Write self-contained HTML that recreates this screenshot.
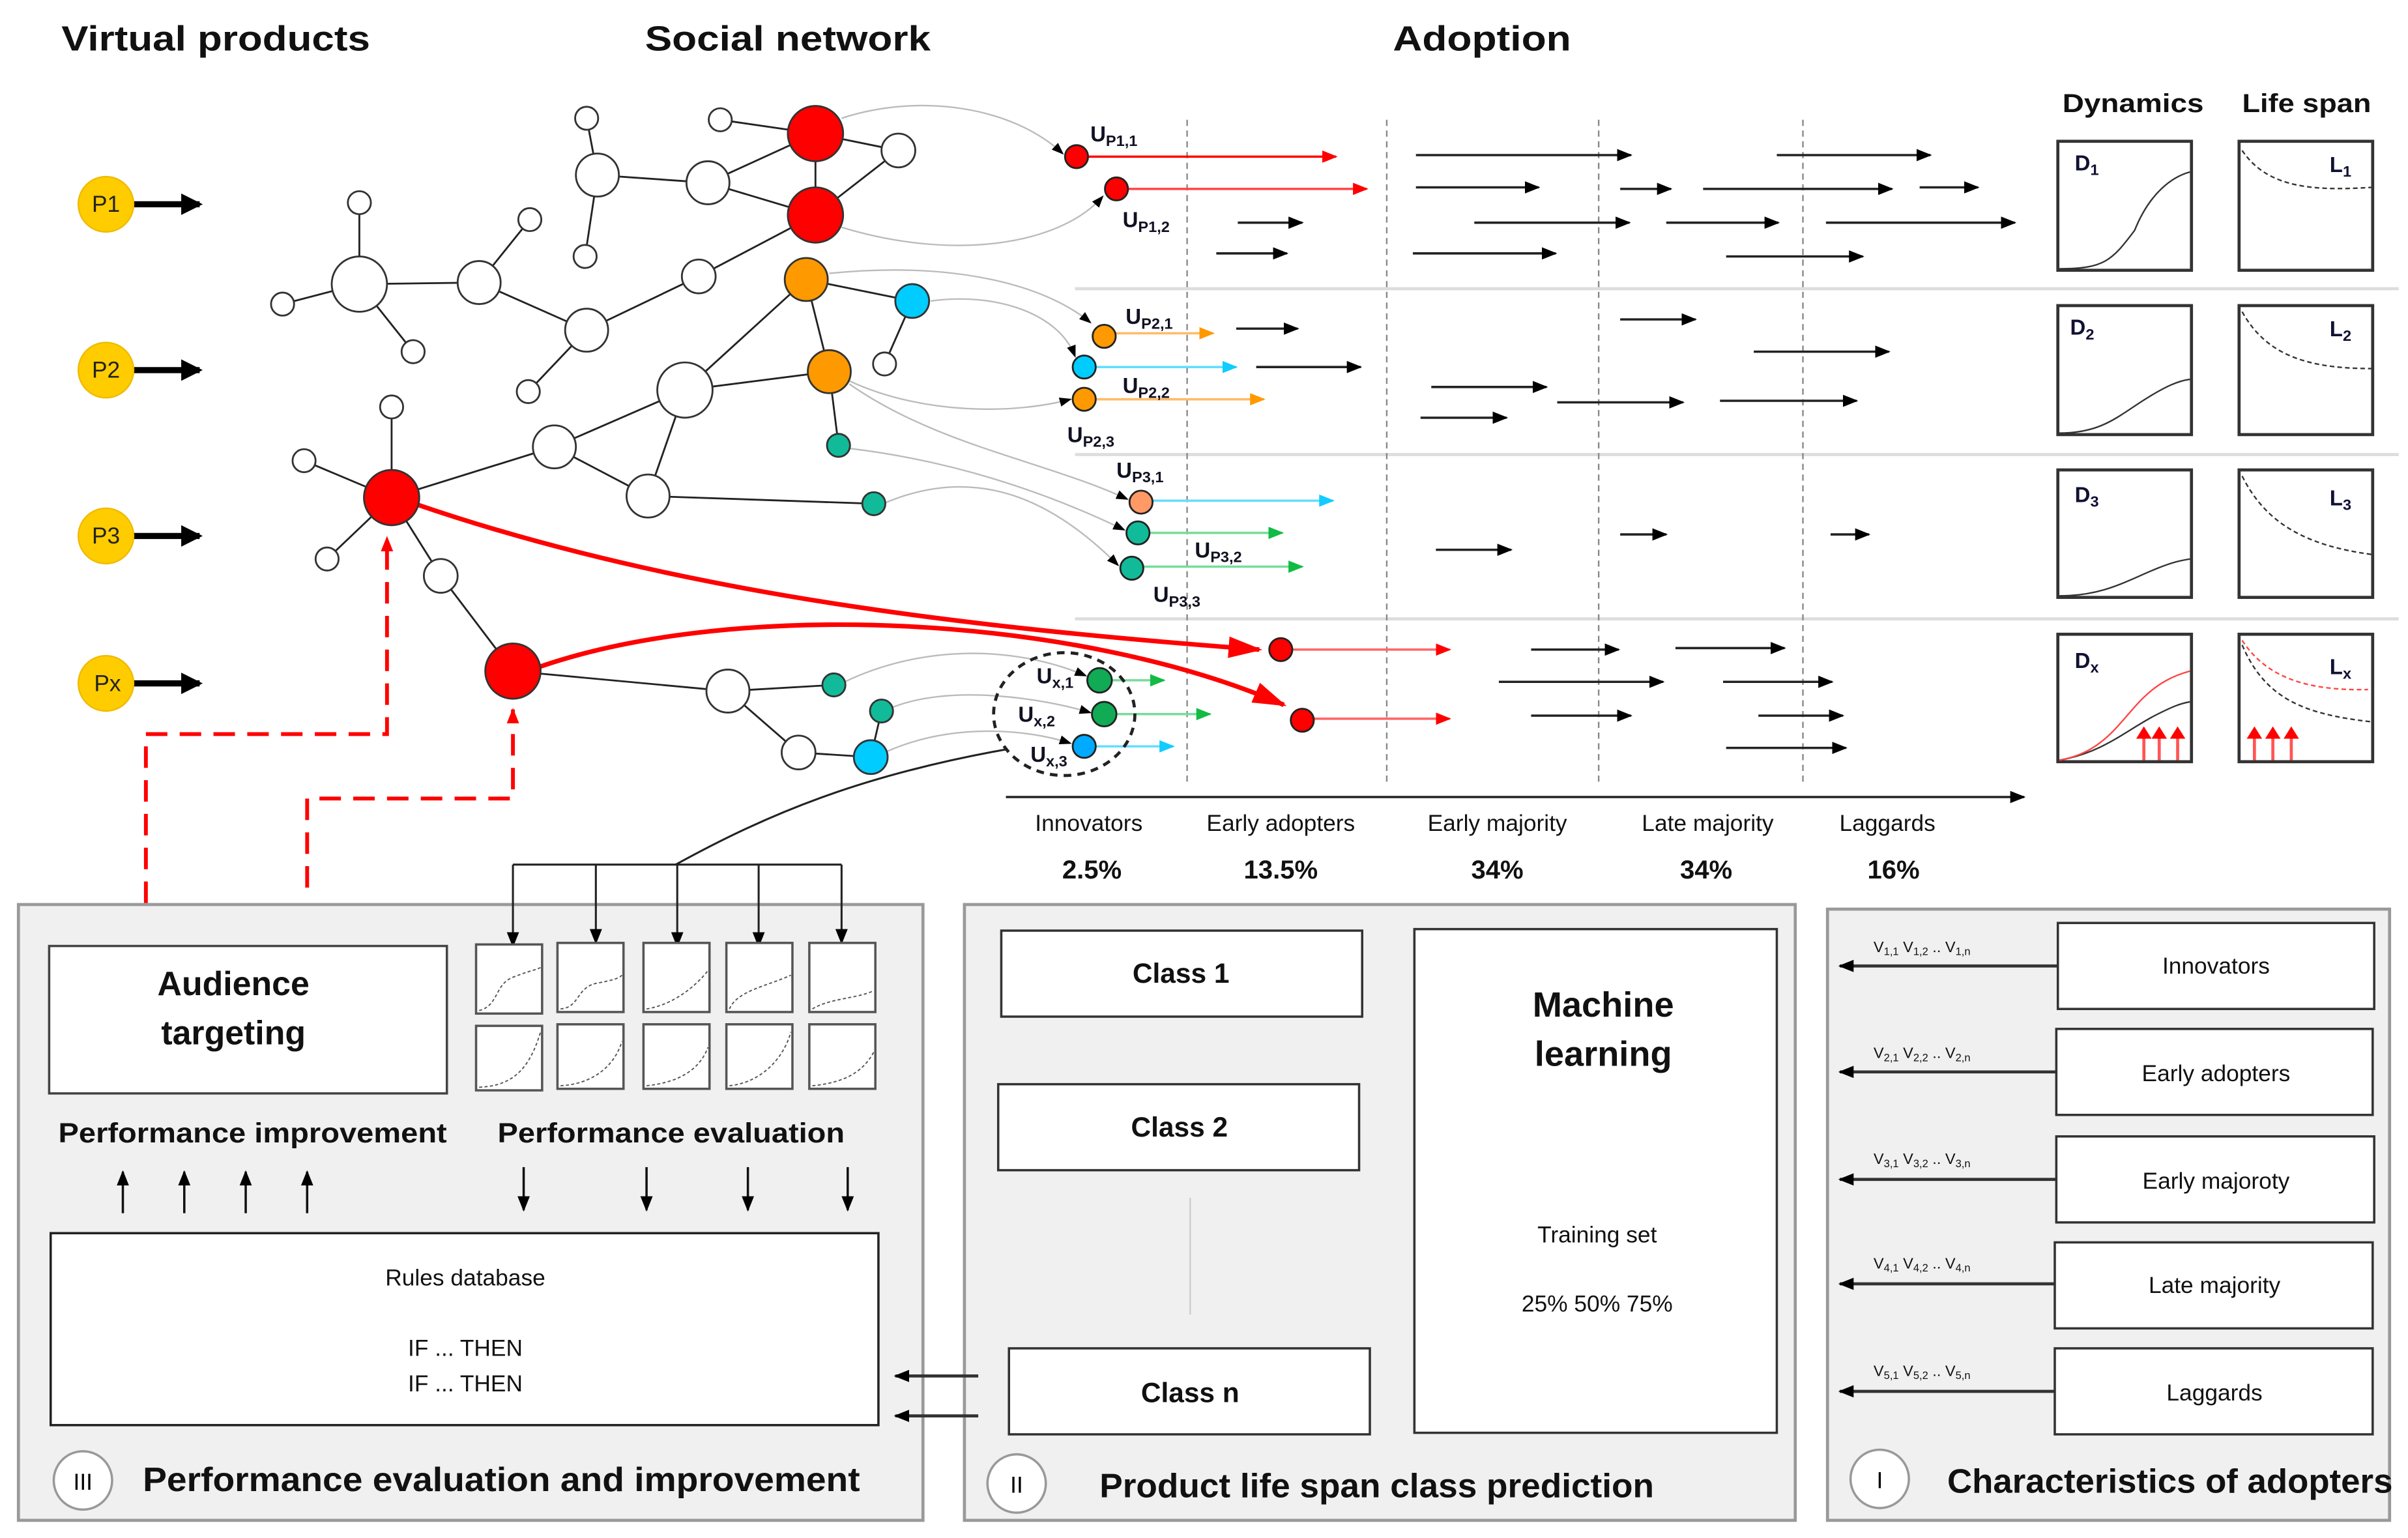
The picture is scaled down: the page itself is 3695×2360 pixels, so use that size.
<!DOCTYPE html>
<html><head><meta charset="utf-8"><style>
html,body{margin:0;padding:0;background:#fff}
svg{display:block}
text{font-family:"Liberation Sans",sans-serif}
</style></head><body>
<svg width="3695" height="2360" viewBox="0 0 1568 1001.5" preserveAspectRatio="none" xmlns="http://www.w3.org/2000/svg">
<defs>
<marker id="ab" markerWidth="10" markerHeight="8" refX="9" refY="4" orient="auto" markerUnits="userSpaceOnUse"><path d="M0,0L10,4L0,8z" fill="#000"/></marker>
<marker id="abs" markerWidth="8" markerHeight="6" refX="7" refY="3" orient="auto" markerUnits="userSpaceOnUse"><path d="M0,0L8,3L0,6z" fill="#000"/></marker>
<marker id="ar" markerWidth="10" markerHeight="8" refX="9" refY="4" orient="auto" markerUnits="userSpaceOnUse"><path d="M0,0L10,4L0,8z" fill="#f00"/></marker>
<marker id="arb" markerWidth="22" markerHeight="14" refX="20" refY="7" orient="auto" markerUnits="userSpaceOnUse"><path d="M0,0L22,7L0,14z" fill="#f00"/></marker>
<marker id="ao" markerWidth="10" markerHeight="8" refX="9" refY="4" orient="auto" markerUnits="userSpaceOnUse"><path d="M0,0L10,4L0,8z" fill="#f90"/></marker>
<marker id="ac" markerWidth="10" markerHeight="8" refX="9" refY="4" orient="auto" markerUnits="userSpaceOnUse"><path d="M0,0L10,4L0,8z" fill="#1cf"/></marker>
<marker id="ag" markerWidth="10" markerHeight="8" refX="9" refY="4" orient="auto" markerUnits="userSpaceOnUse"><path d="M0,0L10,4L0,8z" fill="#1b4"/></marker>
<marker id="abig" markerWidth="14" markerHeight="14" refX="12" refY="7" orient="auto" markerUnits="userSpaceOnUse"><path d="M0,0L14,7L0,14z" fill="#000"/></marker>
</defs>

<!-- titles -->
<g font-weight="bold" font-size="23" fill="#111">
<text x="40" y="33" textLength="201" lengthAdjust="spacingAndGlyphs">Virtual products</text>
<text x="420" y="33" textLength="186" lengthAdjust="spacingAndGlyphs">Social network</text>
<text x="907" y="33" textLength="116" lengthAdjust="spacingAndGlyphs">Adoption</text>
</g>
<g font-weight="bold" font-size="17" fill="#111">
<text x="1343" y="73" textLength="92" lengthAdjust="spacingAndGlyphs">Dynamics</text>
<text x="1460" y="73" textLength="84" lengthAdjust="spacingAndGlyphs">Life span</text>
</g>

<!-- P nodes -->
<g stroke="#000" stroke-width="4" marker-end="url(#abig)">
<line x1="86" y1="133" x2="130" y2="133"/><line x1="86" y1="241" x2="130" y2="241"/>
<line x1="86" y1="349" x2="130" y2="349"/><line x1="86" y1="445" x2="130" y2="445"/>
</g>
<g fill="#fc0" stroke="#eb0" stroke-width="1">
<circle cx="69" cy="133" r="18"/><circle cx="69" cy="241" r="18"/><circle cx="69" cy="349" r="18"/><circle cx="69" cy="445" r="18"/>
</g>
<g font-size="15" text-anchor="middle" fill="#222">
<text x="69" y="138">P1</text><text x="69" y="246">P2</text><text x="69" y="354">P3</text><text x="70" y="450">Px</text>
</g>

<!-- grey separators and dashed verticals -->
<g stroke="#ddd" stroke-width="2">
<line x1="700" y1="188" x2="1562" y2="188"/><line x1="700" y1="296" x2="1562" y2="296"/><line x1="700" y1="403" x2="1562" y2="403"/>
</g>
<g stroke="#888" stroke-width="1" stroke-dasharray="4,3">
<line x1="773" y1="78" x2="773" y2="512"/><line x1="903" y1="78" x2="903" y2="512"/><line x1="1041" y1="78" x2="1041" y2="512"/><line x1="1174" y1="78" x2="1174" y2="512"/>
</g>

<!-- grey curves to U nodes -->
<g fill="none" stroke="#bbb" stroke-width="1" marker-end="url(#abs)">
<path d="M548,77 C600,60 660,70 692,100"/>
<path d="M548,148 C620,170 690,160 718,128"/>
<path d="M540,178 C620,170 680,185 710,210"/>
<path d="M606,196 C650,190 690,205 700,232"/>
<path d="M553,248 C600,270 660,270 697,260"/>
<path d="M553,250 C610,290 680,300 734,325"/>
<path d="M553,292 C620,300 680,320 732,345"/>
<path d="M575,328 C640,300 690,330 728,368"/>
<path d="M550,444 C600,420 660,420 707,440"/>
<path d="M580,461 C620,445 680,455 710,464"/>
<path d="M576,490 C620,470 670,475 697,484"/>
</g>

<!-- network edges -->
<g stroke="#222" stroke-width="1.2">
<line x1="382" y1="77" x2="389" y2="114"/><line x1="469" y1="78" x2="531" y2="87"/><line x1="531" y1="87" x2="585" y2="98"/>
<line x1="531" y1="87" x2="461" y2="119"/><line x1="389" y1="114" x2="461" y2="119"/><line x1="389" y1="114" x2="381" y2="167"/>
<line x1="461" y1="119" x2="531" y2="140"/><line x1="531" y1="140" x2="585" y2="98"/><line x1="531" y1="87" x2="531" y2="140"/>
<line x1="234" y1="132" x2="234" y2="185"/><line x1="184" y1="198" x2="234" y2="185"/><line x1="234" y1="185" x2="269" y2="229"/>
<line x1="234" y1="185" x2="312" y2="184"/><line x1="312" y1="184" x2="345" y2="143"/><line x1="312" y1="184" x2="382" y2="215"/>
<line x1="382" y1="215" x2="455" y2="180"/><line x1="455" y1="180" x2="531" y2="140"/><line x1="382" y1="215" x2="344" y2="255"/>
<line x1="525" y1="182" x2="446" y2="254"/><line x1="525" y1="182" x2="594" y2="196"/><line x1="525" y1="182" x2="540" y2="242"/>
<line x1="594" y1="196" x2="576" y2="237"/><line x1="540" y1="242" x2="446" y2="254"/><line x1="540" y1="242" x2="546" y2="290"/>
<line x1="446" y1="254" x2="361" y2="291"/><line x1="446" y1="254" x2="422" y2="323"/><line x1="361" y1="291" x2="255" y2="324"/>
<line x1="255" y1="324" x2="255" y2="265"/><line x1="255" y1="324" x2="198" y2="300"/><line x1="255" y1="324" x2="213" y2="364"/>
<line x1="255" y1="324" x2="287" y2="375"/><line x1="287" y1="375" x2="334" y2="437"/><line x1="334" y1="437" x2="474" y2="450"/>
<line x1="474" y1="450" x2="543" y2="446"/><line x1="474" y1="450" x2="520" y2="490"/><line x1="520" y1="490" x2="567" y2="493"/>
<line x1="574" y1="463" x2="567" y2="493"/><line x1="422" y1="323" x2="569" y2="328"/><line x1="361" y1="291" x2="422" y2="323"/>
</g>

<!-- red thick curves -->
<path d="M270,328 C450,390 650,410 820,423" fill="none" stroke="#f00" stroke-width="3" marker-end="url(#arb)"/>
<path d="M352,434 C480,390 700,400 836,459" fill="none" stroke="#f00" stroke-width="3" marker-end="url(#arb)"/>

<!-- network nodes -->
<g fill="#fff" stroke="#333" stroke-width="1.2">
<circle cx="382" cy="77" r="7.5"/><circle cx="469" cy="78" r="7.5"/><circle cx="585" cy="98" r="11"/><circle cx="389" cy="114" r="14"/>
<circle cx="461" cy="119" r="14"/><circle cx="381" cy="167" r="7.5"/><circle cx="234" cy="132" r="7.5"/><circle cx="345" cy="143" r="7.5"/>
<circle cx="234" cy="185" r="18"/><circle cx="184" cy="198" r="7.5"/><circle cx="269" cy="229" r="7.5"/><circle cx="312" cy="184" r="14"/>
<circle cx="455" cy="180" r="11"/><circle cx="382" cy="215" r="14"/><circle cx="344" cy="255" r="7.5"/><circle cx="576" cy="237" r="7.5"/>
<circle cx="446" cy="254" r="18"/><circle cx="255" cy="265" r="7.5"/><circle cx="198" cy="300" r="7.5"/><circle cx="361" cy="291" r="14"/>
<circle cx="422" cy="323" r="14"/><circle cx="213" cy="364" r="7.5"/><circle cx="287" cy="375" r="11"/><circle cx="474" cy="450" r="14"/>
<circle cx="520" cy="490" r="11"/>
</g>
<g stroke="#333" stroke-width="1.2">
<circle cx="531" cy="87" r="18" fill="#f00"/><circle cx="531" cy="140" r="18" fill="#f00"/>
<circle cx="525" cy="182" r="14" fill="#f90"/><circle cx="594" cy="196" r="11" fill="#0cf"/><circle cx="540" cy="242" r="14" fill="#f90"/>
<circle cx="546" cy="290" r="7.5" fill="#1b9"/><circle cx="569" cy="328" r="7.5" fill="#1b9"/>
<circle cx="255" cy="324" r="18" fill="#f00"/><circle cx="334" cy="437" r="18" fill="#f00"/>
<circle cx="543" cy="446" r="7.5" fill="#1b9"/><circle cx="574" cy="463" r="7.5" fill="#1b9"/><circle cx="567" cy="493" r="11" fill="#0cf"/>
</g>

<!-- red dashed feedback -->
<g fill="none" stroke="#f00" stroke-width="2.5" stroke-dasharray="14,8">
<path d="M95,588 L95,478 L252,478 L252,350" marker-end="url(#ar)"/>
<path d="M200,578 L200,520 L334,520 L334,462" marker-end="url(#ar)"/>
</g>

<!-- colored arrows -->
<g stroke-width="1.5">
<line x1="701" y1="102" x2="870" y2="102" stroke="#f00" marker-end="url(#ar)"/>
<line x1="727" y1="123" x2="890" y2="123" stroke="#f44" marker-end="url(#ar)"/>
<line x1="719" y1="217" x2="790" y2="217" stroke="#fb6" marker-end="url(#ao)"/>
<line x1="706" y1="239" x2="805" y2="239" stroke="#6df" marker-end="url(#ac)"/>
<line x1="706" y1="260" x2="823" y2="260" stroke="#fb6" marker-end="url(#ao)"/>
<line x1="743" y1="326" x2="868" y2="326" stroke="#6df" marker-end="url(#ac)"/>
<line x1="741" y1="347" x2="835" y2="347" stroke="#7d9" marker-end="url(#ag)"/>
<line x1="737" y1="369" x2="848" y2="369" stroke="#7d9" marker-end="url(#ag)"/>
<line x1="716" y1="443" x2="758" y2="443" stroke="#7d9" marker-end="url(#ag)"/>
<line x1="719" y1="465" x2="788" y2="465" stroke="#7d9" marker-end="url(#ag)"/>
<line x1="706" y1="486" x2="764" y2="486" stroke="#6df" marker-end="url(#ac)"/>
<line x1="834" y1="423" x2="944" y2="423" stroke="#f66" marker-end="url(#ar)"/>
<line x1="848" y1="468" x2="944" y2="468" stroke="#f66" marker-end="url(#ar)"/>
</g>
<ellipse cx="693" cy="465" rx="46" ry="40" fill="none" stroke="#222" stroke-width="2" stroke-dasharray="5,4"/>
<g stroke="#222" stroke-width="1.2">
<circle cx="701" cy="102" r="7.5" fill="#f00"/><circle cx="727" cy="123" r="7.5" fill="#f00"/>
<circle cx="719" cy="219" r="7.5" fill="#f90"/><circle cx="706" cy="239" r="7.5" fill="#0cf"/><circle cx="706" cy="260" r="7.5" fill="#f90"/>
<circle cx="743" cy="327" r="7.5" fill="#f96"/><circle cx="741" cy="347" r="7.5" fill="#1b9"/><circle cx="737" cy="370" r="7.5" fill="#1b9"/>
<circle cx="716" cy="443" r="8" fill="#1a5"/><circle cx="719" cy="465" r="8" fill="#1a5"/><circle cx="706" cy="486" r="7.5" fill="#0af"/>
<circle cx="834" cy="423" r="7.5" fill="#f00"/><circle cx="848" cy="469" r="7.5" fill="#f00"/>
</g>
<!-- U labels -->
<g font-weight="bold" font-size="14" fill="#112">
<text x="710" y="92">U<tspan font-size="10" dy="3">P1,1</tspan></text>
<text x="731" y="148">U<tspan font-size="10" dy="3">P1,2</tspan></text>
<text x="733" y="211">U<tspan font-size="10" dy="3">P2,1</tspan></text>
<text x="731" y="256">U<tspan font-size="10" dy="3">P2,2</tspan></text>
<text x="695" y="288">U<tspan font-size="10" dy="3">P2,3</tspan></text>
<text x="727" y="311">U<tspan font-size="10" dy="3">P3,1</tspan></text>
<text x="778" y="363">U<tspan font-size="10" dy="3">P3,2</tspan></text>
<text x="751" y="392">U<tspan font-size="10" dy="3">P3,3</tspan></text>
<text x="675" y="445">U<tspan font-size="10" dy="3">x,1</tspan></text>
<text x="663" y="470">U<tspan font-size="10" dy="3">x,2</tspan></text>
<text x="671" y="496">U<tspan font-size="10" dy="3">x,3</tspan></text>
</g>

<!-- black arrows -->
<g stroke="#222" stroke-width="1.5" marker-end="url(#ab)">
<line x1="922" y1="101" x2="1062" y2="101"/><line x1="922" y1="122" x2="1002" y2="122"/><line x1="1157" y1="101" x2="1257" y2="101"/>
<line x1="1055" y1="123" x2="1088" y2="123"/><line x1="1109" y1="123" x2="1232" y2="123"/><line x1="1250" y1="122" x2="1288" y2="122"/>
<line x1="806" y1="145" x2="848" y2="145"/><line x1="960" y1="145" x2="1061" y2="145"/><line x1="1085" y1="145" x2="1158" y2="145"/>
<line x1="1189" y1="145" x2="1312" y2="145"/><line x1="792" y1="165" x2="838" y2="165"/><line x1="920" y1="165" x2="1013" y2="165"/>
<line x1="1124" y1="167" x2="1213" y2="167"/>
<line x1="805" y1="214" x2="845" y2="214"/><line x1="818" y1="239" x2="886" y2="239"/><line x1="1055" y1="208" x2="1104" y2="208"/>
<line x1="1142" y1="229" x2="1230" y2="229"/><line x1="932" y1="252" x2="1007" y2="252"/><line x1="925" y1="272" x2="981" y2="272"/>
<line x1="1014" y1="262" x2="1096" y2="262"/><line x1="1120" y1="261" x2="1209" y2="261"/>
<line x1="935" y1="358" x2="984" y2="358"/><line x1="1055" y1="348" x2="1085" y2="348"/><line x1="1192" y1="348" x2="1217" y2="348"/>
<line x1="997" y1="423" x2="1054" y2="423"/><line x1="1091" y1="422" x2="1162" y2="422"/><line x1="976" y1="444" x2="1083" y2="444"/>
<line x1="1122" y1="444" x2="1193" y2="444"/><line x1="997" y1="466" x2="1062" y2="466"/><line x1="1145" y1="466" x2="1200" y2="466"/>
<line x1="1124" y1="487" x2="1202" y2="487"/>
<line x1="655" y1="519" x2="1318" y2="519"/>
</g>
<g font-size="15" text-anchor="middle" fill="#111">
<text x="709" y="541">Innovators</text><text x="834" y="541">Early adopters</text><text x="975" y="541">Early majority</text>
<text x="1112" y="541">Late majority</text><text x="1229" y="541">Laggards</text>
</g>
<g font-size="17" font-weight="bold" text-anchor="middle" fill="#111">
<text x="711" y="572">2.5%</text><text x="834" y="572">13.5%</text><text x="975" y="572">34%</text><text x="1111" y="572">34%</text><text x="1233" y="572">16%</text>
</g>

<!-- dynamics / lifespan boxes -->
<g fill="#fff" stroke="#333" stroke-width="2">
<rect x="1340" y="92" width="87" height="84"/><rect x="1340" y="199" width="87" height="84"/><rect x="1340" y="306" width="87" height="83"/><rect x="1340" y="413" width="87" height="83"/>
<rect x="1458" y="92" width="87" height="84"/><rect x="1458" y="199" width="87" height="84"/><rect x="1458" y="306" width="87" height="83"/><rect x="1458" y="413" width="87" height="83"/>
</g>
<g fill="none" stroke="#333" stroke-width="1">
<path d="M1341,175 C1370,175 1375,170 1390,150 C1400,125 1415,115 1426,112"/>
<path d="M1341,282 C1370,282 1380,270 1400,258 C1410,252 1418,248 1426,247"/>
<path d="M1341,388 C1370,388 1385,378 1405,370 C1415,366 1420,365 1426,364"/>
<path d="M1341,495 C1370,490 1385,475 1405,465 C1415,460 1420,458 1426,457"/>
</g>
<path d="M1341,495 C1370,490 1380,470 1395,455 C1405,445 1415,440 1426,437" fill="none" stroke="#f44" stroke-width="1"/>
<g fill="none" stroke="#333" stroke-width="1" stroke-dasharray="3,2">
<path d="M1460,98 C1475,120 1500,125 1544,122"/>
<path d="M1460,203 C1475,230 1500,240 1544,240"/>
<path d="M1460,310 C1475,340 1500,355 1544,361"/>
<path d="M1460,420 C1475,455 1500,465 1544,470"/>
</g>
<path d="M1460,417 C1475,440 1500,450 1542,449" fill="none" stroke="#f44" stroke-width="1" stroke-dasharray="3,2"/>
<g stroke="#f55" stroke-width="2">
<line x1="1396" y1="495" x2="1396" y2="478"/><line x1="1406" y1="495" x2="1406" y2="478"/><line x1="1418" y1="495" x2="1418" y2="478"/>
<line x1="1468" y1="495" x2="1468" y2="478"/><line x1="1480" y1="495" x2="1480" y2="478"/><line x1="1492" y1="495" x2="1492" y2="478"/>
</g>
<g fill="#f00">
<path d="M1391,481L1396,473L1401,481z"/><path d="M1401,481L1406,473L1411,481z"/><path d="M1413,481L1418,473L1423,481z"/>
<path d="M1463,481L1468,473L1473,481z"/><path d="M1475,481L1480,473L1485,481z"/><path d="M1487,481L1492,473L1497,481z"/>
</g>
<g font-weight="bold" font-size="14" fill="#113">
<text x="1351" y="111">D<tspan font-size="10" dy="3">1</tspan></text><text x="1348" y="218">D<tspan font-size="10" dy="3">2</tspan></text>
<text x="1351" y="327">D<tspan font-size="10" dy="3">3</tspan></text><text x="1351" y="435">D<tspan font-size="10" dy="3">x</tspan></text>
<text x="1517" y="112">L<tspan font-size="10" dy="3">1</tspan></text><text x="1517" y="219">L<tspan font-size="10" dy="3">2</tspan></text>
<text x="1517" y="329">L<tspan font-size="10" dy="3">3</tspan></text><text x="1517" y="439">L<tspan font-size="10" dy="3">x</tspan></text>
</g>

<!-- line from U x3 to evaluation -->
<path d="M655,488 C560,505 500,530 440,563" fill="none" stroke="#222" stroke-width="1.3"/>

<!-- Panels -->
<g fill="#f0f0f0" stroke="#999" stroke-width="2">
<rect x="12" y="589" width="589" height="401"/>
<rect x="628" y="589" width="541" height="401"/>
<rect x="1190" y="592" width="366" height="398"/>
</g>

<!-- Panel III -->
<rect x="32" y="616" width="259" height="96" fill="#fff" stroke="#444" stroke-width="1.5"/>
<g font-weight="bold" font-size="22" text-anchor="middle" fill="#111"><text x="152" y="648">Audience</text><text x="152" y="680">targeting</text></g>
<line x1="334" y1="563" x2="548" y2="563" stroke="#222" stroke-width="1.3"/>
<g stroke="#222" stroke-width="1.3" marker-end="url(#ab)">
<line x1="334" y1="563" x2="334" y2="616"/><line x1="388" y1="563" x2="388" y2="614"/><line x1="441" y1="563" x2="441" y2="616"/>
<line x1="494" y1="563" x2="494" y2="616"/><line x1="548" y1="563" x2="548" y2="614"/>
</g>
<g fill="#fff" stroke="#555" stroke-width="1.5">
<rect x="310" y="615" width="43" height="45"/><rect x="363" y="614" width="43" height="45"/><rect x="419" y="614" width="43" height="45"/><rect x="473" y="614" width="43" height="45"/><rect x="527" y="614" width="43" height="45"/>
<rect x="310" y="668" width="43" height="42"/><rect x="363" y="667" width="43" height="42"/><rect x="419" y="667" width="43" height="42"/><rect x="473" y="667" width="43" height="42"/><rect x="527" y="667" width="43" height="42"/>
</g>
<g fill="none" stroke="#555" stroke-width="0.8" stroke-dasharray="2,1.5">
<path d="M312,658 C325,655 322,640 335,636 C345,632 348,632 352,630"/>
<path d="M365,657 C378,656 375,642 390,640 C400,638 403,637 405,635"/>
<path d="M421,657 C440,654 455,640 461,632"/>
<path d="M475,657 C480,645 500,642 515,635"/>
<path d="M529,657 C540,650 560,650 569,645"/>
<path d="M312,708 C335,707 345,695 352,672"/><path d="M365,707 C385,706 400,695 405,678"/>
<path d="M421,707 C440,705 455,698 461,682"/><path d="M475,707 C495,705 510,690 515,672"/><path d="M529,707 C550,705 562,698 569,685"/>
</g>
<g font-weight="bold" font-size="18" fill="#111"><text x="38" y="744" textLength="253" lengthAdjust="spacingAndGlyphs">Performance improvement</text><text x="324" y="744" textLength="226" lengthAdjust="spacingAndGlyphs">Performance evaluation</text></g>
<g stroke="#111" stroke-width="1.5" marker-end="url(#ab)">
<line x1="80" y1="790" x2="80" y2="763"/><line x1="120" y1="790" x2="120" y2="763"/><line x1="160" y1="790" x2="160" y2="763"/><line x1="200" y1="790" x2="200" y2="763"/>
<line x1="341" y1="760" x2="341" y2="788"/><line x1="421" y1="760" x2="421" y2="788"/><line x1="487" y1="760" x2="487" y2="788"/><line x1="552" y1="760" x2="552" y2="788"/>
</g>
<rect x="33" y="803" width="539" height="125" fill="#fff" stroke="#222" stroke-width="1.5"/>
<g font-size="15" text-anchor="middle" fill="#111"><text x="303" y="837">Rules database</text><text x="303" y="883">IF  ... THEN</text><text x="303" y="906">IF  ... THEN</text></g>
<g stroke="#333" stroke-width="2" marker-end="url(#ab)"><line x1="637" y1="896" x2="583" y2="896"/><line x1="637" y1="922" x2="583" y2="922"/></g>
<circle cx="54" cy="964" r="19" fill="#fff" stroke="#999" stroke-width="1.5"/>
<text x="54" y="970" font-size="15" text-anchor="middle">III</text>
<text x="93" y="971" font-weight="bold" font-size="22" fill="#111" textLength="467" lengthAdjust="spacingAndGlyphs">Performance evaluation and improvement</text>

<!-- Panel II -->
<g fill="#fff" stroke="#333" stroke-width="1.5">
<rect x="652" y="606" width="235" height="56"/><rect x="650" y="706" width="235" height="56"/><rect x="657" y="878" width="235" height="56"/><rect x="921" y="605" width="236" height="328"/>
</g>
<line x1="775" y1="780" x2="775" y2="856" stroke="#ccc" stroke-width="1"/>
<g font-weight="bold" font-size="18" text-anchor="middle" fill="#111"><text x="769" y="640">Class 1</text><text x="768" y="740">Class 2</text><text x="775" y="913">Class n</text></g>
<g font-weight="bold" font-size="23" text-anchor="middle" fill="#111"><text x="1044" y="662">Machine</text><text x="1044" y="694">learning</text></g>
<g font-size="15" text-anchor="middle" fill="#111"><text x="1040" y="809">Training set</text><text x="1040" y="854">25% 50% 75%</text></g>
<circle cx="662" cy="966" r="19" fill="#fff" stroke="#999" stroke-width="1.5"/>
<text x="662" y="972" font-size="15" text-anchor="middle">II</text>
<text x="716" y="975" font-weight="bold" font-size="22" fill="#111" textLength="361" lengthAdjust="spacingAndGlyphs">Product life span class prediction</text>

<!-- Panel I -->
<g fill="#fff" stroke="#333" stroke-width="1.5">
<rect x="1340" y="601" width="206" height="56"/><rect x="1339" y="670" width="206" height="56"/><rect x="1339" y="740" width="207" height="56"/><rect x="1338" y="809" width="207" height="56"/><rect x="1338" y="878" width="207" height="56"/>
</g>
<g font-size="15" text-anchor="middle" fill="#111">
<text x="1443" y="634">Innovators</text><text x="1443" y="704">Early adopters</text><text x="1443" y="774">Early majoroty</text><text x="1442" y="842">Late majority</text><text x="1442" y="912">Laggards</text>
</g>
<g stroke="#333" stroke-width="2" marker-end="url(#ab)">
<line x1="1340" y1="629" x2="1198" y2="629"/><line x1="1339" y1="698" x2="1198" y2="698"/><line x1="1339" y1="768" x2="1198" y2="768"/><line x1="1338" y1="836" x2="1198" y2="836"/><line x1="1338" y1="906" x2="1198" y2="906"/>
</g>
<g font-size="10" fill="#111">
<text x="1220" y="620">V<tspan font-size="7" dy="2">1,1</tspan><tspan dy="-2"> V</tspan><tspan font-size="7" dy="2">1,2</tspan><tspan dy="-2"> .. V</tspan><tspan font-size="7" dy="2">1,n</tspan></text>
<text x="1220" y="689">V<tspan font-size="7" dy="2">2,1</tspan><tspan dy="-2">  V</tspan><tspan font-size="7" dy="2">2,2</tspan><tspan dy="-2"> .. V</tspan><tspan font-size="7" dy="2">2,n</tspan></text>
<text x="1220" y="758">V<tspan font-size="7" dy="2">3,1</tspan><tspan dy="-2">  V</tspan><tspan font-size="7" dy="2">3,2</tspan><tspan dy="-2"> .. V</tspan><tspan font-size="7" dy="2">3,n</tspan></text>
<text x="1220" y="826">V<tspan font-size="7" dy="2">4,1</tspan><tspan dy="-2">  V</tspan><tspan font-size="7" dy="2">4,2</tspan><tspan dy="-2"> .. V</tspan><tspan font-size="7" dy="2">4,n</tspan></text>
<text x="1220" y="896">V<tspan font-size="7" dy="2">5,1</tspan><tspan dy="-2">  V</tspan><tspan font-size="7" dy="2">5,2</tspan><tspan dy="-2"> .. V</tspan><tspan font-size="7" dy="2">5,n</tspan></text>
</g>
<circle cx="1224" cy="963" r="19" fill="#fff" stroke="#999" stroke-width="1.5"/>
<text x="1224" y="969" font-size="15" text-anchor="middle">I</text>
<text x="1268" y="972" font-weight="bold" font-size="22" fill="#111" textLength="290" lengthAdjust="spacingAndGlyphs">Characteristics of adopters</text>
</svg>
</body></html>
